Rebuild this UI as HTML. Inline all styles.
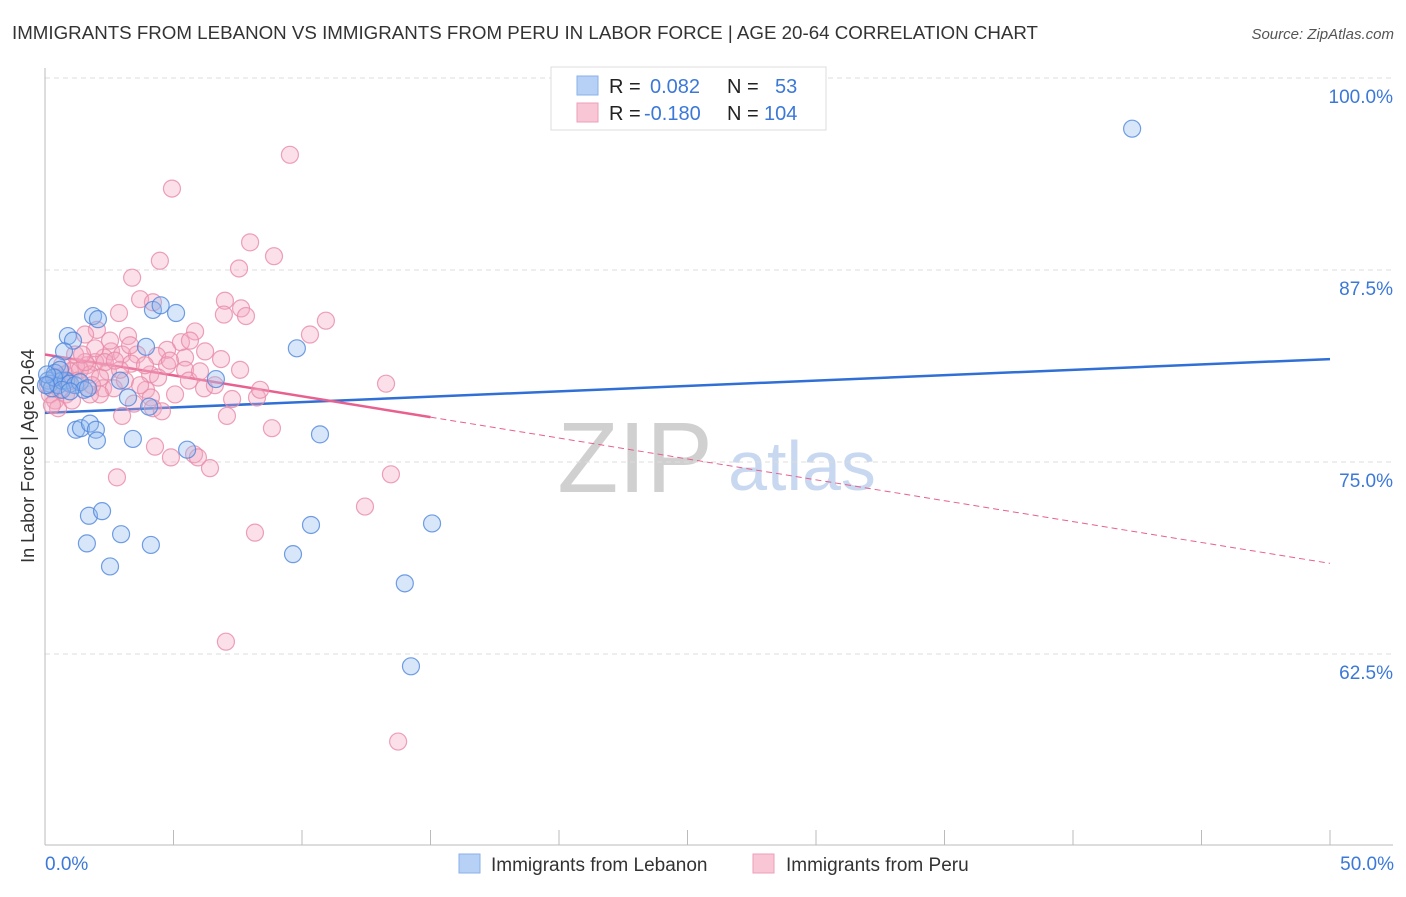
<!DOCTYPE html>
<html><head><meta charset="utf-8"><style>
body{margin:0;background:#fff;font-family:"Liberation Sans",sans-serif}
svg text{font-family:"Liberation Sans",sans-serif}
</style></head><body>
<svg id="chart" width="1406" height="892" xmlns="http://www.w3.org/2000/svg">
<text x="12" y="39" font-size="18" fill="#333" textLength="1026" lengthAdjust="spacingAndGlyphs">IMMIGRANTS FROM LEBANON VS IMMIGRANTS FROM PERU IN LABOR FORCE | AGE 20-64 CORRELATION CHART</text>
<text x="1394" y="39" font-size="15" fill="#555" font-style="italic" text-anchor="end">Source: ZipAtlas.com</text>
<text x="635" y="492" font-size="100" fill="#d0d0d0" font-family="Liberation Serif" text-anchor="middle">ZIP</text>
<text x="802" y="490" font-size="70" fill="#c8d8f0" text-anchor="middle">atlas</text>
<g id="grid"></g><g id="axes"></g><g id="trends"></g><g id="points"></g>
<text x="34" y="456" font-size="18" fill="#333" text-anchor="middle" transform="rotate(-90 34 456)">In Labor Force | Age 20-64</text>
<text x="45" y="870" font-size="19" fill="#3b78d8">0.0%</text>
<text x="1394" y="870" font-size="19" fill="#3b78d8" text-anchor="end">50.0%</text>
<g>
<rect x="551" y="67" width="275" height="63" fill="#fff" stroke="#ddd"/>
<rect x="577" y="76" width="21" height="19" fill="#b7d0f5" stroke="#8ab0ea"/>
<rect x="577" y="103" width="21" height="19" fill="#f9c6d6" stroke="#ee9fbb"/>
<text x="609" y="93" font-size="20" fill="#222">R = </text><text x="650" y="93" font-size="20" fill="#3b78d8">0.082</text>
<text x="727" y="93" font-size="20" fill="#222">N = </text><text x="775" y="93" font-size="20" fill="#3b78d8">53</text>
<text x="609" y="120" font-size="20" fill="#222">R = </text><text x="644" y="120" font-size="20" fill="#3b78d8">-0.180</text>
<text x="727" y="120" font-size="20" fill="#222">N = </text><text x="764" y="120" font-size="20" fill="#3b78d8">104</text>
</g>
<g>
<rect x="459" y="854" width="21" height="19" fill="#b7d0f5" stroke="#8ab0ea"/>
<text x="491" y="871" font-size="19" fill="#333">Immigrants from Lebanon</text>
<rect x="753" y="854" width="21" height="19" fill="#f9c6d6" stroke="#ee9fbb"/>
<text x="786" y="871" font-size="19" fill="#333">Immigrants from Peru</text>
</g>
</svg>
<script>
const yTicks=[100,87.5,75,62.5];
const yTickLabels=["100.0%","87.5%","75.0%","62.5%"];
const xTicks=[0,5,10,15,20,25,30,35,40,45,50];
const lebanonX=[42.3,9.8,6.65,4.2,4.5,5.1,1.87,2.06,0.89,1.09,0.74,3.93,0.47,0.39,0.12,0.19,0.27,0.51,0.66,0.82,0.97,1.17,1.36,1.52,1.67,2.92,3.23,4.05,1.21,1.4,1.75,1.98,2.02,3.42,5.53,10.7,1.71,2.22,1.63,2.96,4.12,2.53,9.65,10.35,15.06,14.0,14.24,0.58,0.35,0.08,0.66,0.97,0.04];
const lebanonY=[96.7,82.4,80.4,84.9,85.2,84.7,84.5,84.3,83.2,82.9,82.2,82.5,81.3,80.8,80.3,80.1,79.8,80.0,80.3,80.3,80.1,80.0,80.2,79.7,79.8,80.3,79.2,78.6,77.1,77.2,77.5,77.1,76.4,76.5,75.8,76.8,71.5,71.8,69.7,70.3,69.6,68.2,69.0,70.9,71.0,67.1,61.7,81.0,80.5,80.7,79.7,79.6,80.0];
const peruX=[9.53,4.94,7.98,4.47,8.91,3.39,7.55,3.70,4.20,7.0,7.63,7.82,6.96,10.93,10.31,2.88,5.84,2.02,1.56,3.23,5.29,4.75,6.23,2.57,2.30,3.0,3.58,4.36,5.45,6.85,1.95,1.63,1.21,3.35,4.75,5.45,2.45,4.09,4.4,5.6,6.19,7.28,8.25,2.26,2.68,3.11,3.93,4.12,3.46,4.2,4.55,3.0,7.08,8.83,4.28,4.9,5.8,5.95,6.42,2.8,13.46,12.45,8.17,13.27,7.04,13.74,0.58,0.39,0.19,0.12,0.78,0.97,1.36,1.75,2.14,0.51,0.27,0.82,1.05,1.28,1.56,1.95,2.53,3.31,4.86,6.03,2.14,0.66,1.17,3.7,1.75,2.92,5.06,1.44,2.33,0.89,0.43,1.83,2.72,3.89,5.64,6.61,7.59,8.37];
const peruY=[95.0,92.8,89.3,88.1,88.4,87.0,87.6,85.6,85.4,85.5,85.0,84.5,84.6,84.2,83.3,84.7,83.5,83.6,83.3,83.2,82.8,82.3,82.2,82.2,81.8,82.0,82.0,81.9,81.8,81.7,81.5,81.3,81.2,81.4,81.3,81.0,80.9,80.7,80.5,80.3,79.8,79.1,79.2,79.8,79.8,80.3,79.7,79.2,78.8,78.5,78.3,78.0,78.0,77.2,76.0,75.3,75.5,75.3,74.6,74.0,74.2,72.1,70.4,80.1,63.3,56.8,79.7,79.0,79.4,80.0,80.7,80.9,81.0,80.7,80.5,78.5,78.7,79.4,79.0,80.3,81.5,82.4,82.9,82.6,81.6,80.9,79.4,81.3,82.0,80.0,79.4,81.0,79.4,82.0,81.5,80.2,80.5,80.0,81.6,81.3,82.9,80.0,81.0,79.7];
const lebanonTrend=[78.2,0.07];
const peruTrend=[82.0,-0.272];
const peruSolidEnd=15;

const NS="http://www.w3.org/2000/svg";
const X=v=>45+v/50*1285;
const Y=v=>78+(100-v)/12.5*192;
function mk(t,a,p){const e=document.createElementNS(NS,t);for(const k in a)e.setAttribute(k,a[k]);p.appendChild(e);return e;}
const grid=document.getElementById('grid'),axes=document.getElementById('axes'),tr=document.getElementById('trends'),pts=document.getElementById('points');
yTicks.forEach((v,i)=>{
 const l=mk('line',{x1:45,x2:1393,y1:Y(v),y2:Y(v),stroke:'#ddd','stroke-dasharray':'5,4'},grid);
 
 
 const t=mk('text',{x:1393,y:Y(v)+25,'font-size':19,fill:'#3b78d8','text-anchor':'end'},grid);
 t.textContent=yTickLabels[i];
 
 
});
const ya=mk('line',{x1:45,x2:45,y1:68,y2:845,stroke:'#bbb'},axes);


const xa=mk('line',{x1:45,x2:1393,y1:845,y2:845,stroke:'#bbb'},axes);


xTicks.forEach(v=>{
 const t=mk('line',{x1:X(v),x2:X(v),y1:830,y2:845,stroke:'#bbb'},axes);
 
 
});
function dots(xs,ys,fill,stroke,name){
 xs.forEach((x,i)=>{
  const c=mk('circle',{cx:X(x),cy:Y(ys[i]),r:8.5,fill:fill,'fill-opacity':0.35,stroke:stroke,'stroke-width':1.2,'stroke-opacity':0.8},pts);
  
  
 });
}
dots(peruX,peruY,'#f4a6bf','#e98aa8','point-peru');
dots(lebanonX,lebanonY,'#8fb6ee','#4f86dc','point-lebanon');
const lb=mk('line',{x1:X(0),y1:Y(lebanonTrend[0]),x2:X(50),y2:Y(lebanonTrend[0]+50*lebanonTrend[1]),stroke:'#2f6fd6','stroke-width':2.5},tr);


const ps=mk('line',{x1:X(0),y1:Y(peruTrend[0]),x2:X(peruSolidEnd),y2:Y(peruTrend[0]+peruSolidEnd*peruTrend[1]),stroke:'#e8608f','stroke-width':2.5},tr);


const pd=mk('line',{x1:X(peruSolidEnd),y1:Y(peruTrend[0]+peruSolidEnd*peruTrend[1]),x2:X(50),y2:Y(peruTrend[0]+50*peruTrend[1]),stroke:'#e8608f','stroke-width':1,'stroke-dasharray':'6,4'},tr);


</script>
</body></html>
